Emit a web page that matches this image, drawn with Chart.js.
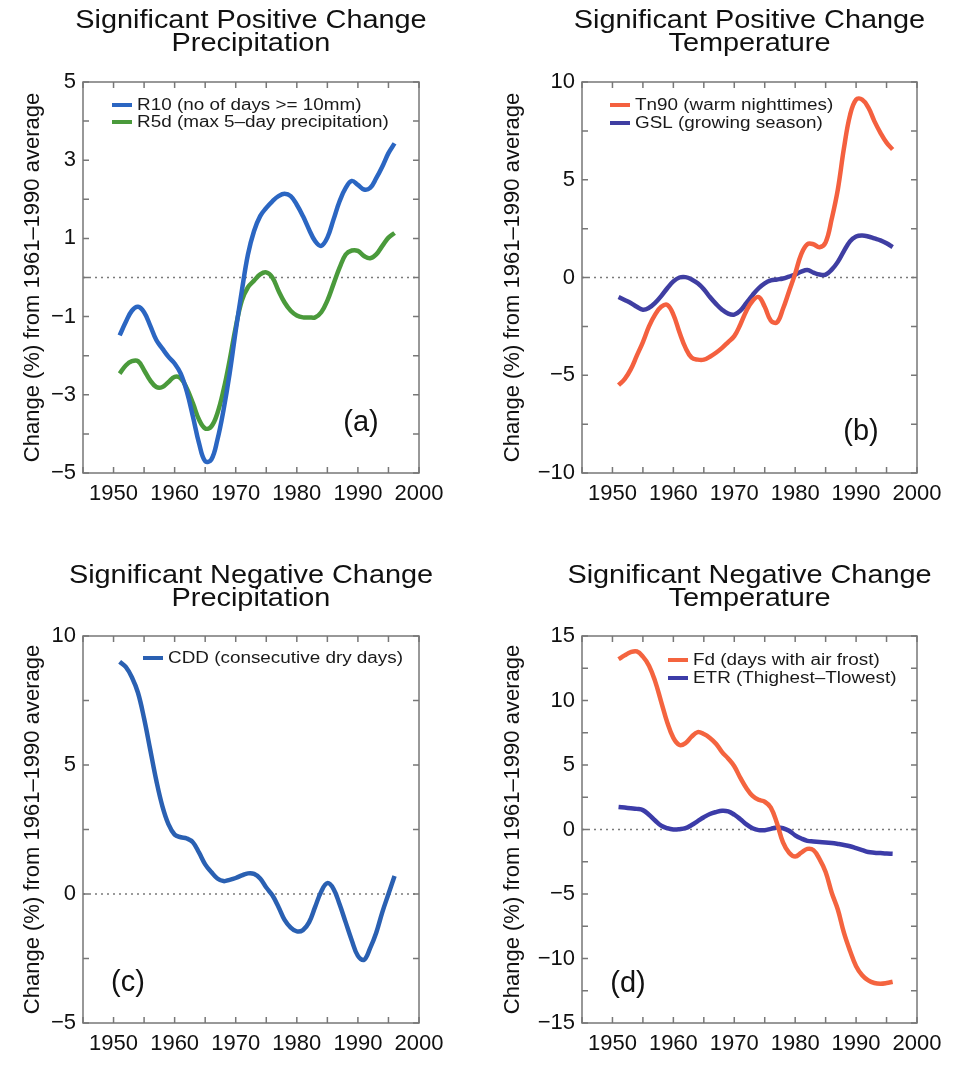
<!DOCTYPE html>
<html>
<head>
<meta charset="utf-8">
<script src="https://cdn.jsdelivr.net/npm/chart.js@4.4.1/dist/chart.umd.min.js"></script>
<style>
body { margin: 0; background: #fff; }
canvas { position: absolute; }
</style>
</head>
<body>
<canvas id="pa" width="479" height="532" style="left:0;top:0"></canvas>
<canvas id="pb" width="479" height="532" style="left:480px;top:0"></canvas>
<canvas id="pc" width="479" height="532" style="left:0;top:533px"></canvas>
<canvas id="pd" width="479" height="532" style="left:480px;top:533px"></canvas>
<script>
// years of the smoothed series
const years = [1951,1952,1953,1954,1955,1956,1957,1958,1959,1960,
  1961,1962,1963,1964,1965,1966,1967,1968,1969,1970,
  1971,1972,1973,1974,1975,1976,1977,1978,1979,1980,
  1981,1982,1983,1984,1985,1986,1987,1988,1989,1990,
  1991,1992,1993,1994,1995,1996];

// (a) precipitation, positive
const r10 = [-1.48,-1.14,-0.85,-0.75,-0.89,-1.23,-1.6,-1.82,-2.03,-2.2,
  -2.46,-2.92,-3.56,-4.24,-4.7,-4.66,-4.15,-3.39,-2.46,-1.36,
  -0.34,0.59,1.19,1.57,1.78,1.95,2.08,2.14,2.08,1.86,
  1.57,1.23,0.93,0.81,1.02,1.48,1.95,2.29,2.47,2.37,
  2.25,2.29,2.54,2.84,3.18,3.43];
const r5d = [-2.46,-2.25,-2.14,-2.14,-2.37,-2.63,-2.8,-2.8,-2.67,-2.54,
  -2.58,-2.84,-3.22,-3.64,-3.86,-3.81,-3.47,-2.88,-2.12,-1.27,
  -0.59,-0.25,-0.08,0.08,0.13,0,-0.34,-0.64,-0.85,-0.97,
  -1.02,-1.02,-1.02,-0.89,-0.59,-0.17,0.25,0.59,0.69,0.68,
  0.55,0.49,0.59,0.81,1.02,1.14];

// (b) temperature, positive
const tn90 = [-5.5,-5.2,-4.7,-4.0,-3.3,-2.5,-1.9,-1.5,-1.4,-1.9,
  -2.8,-3.6,-4.1,-4.2,-4.2,-4.05,-3.85,-3.6,-3.3,-3.0,
  -2.4,-1.7,-1.2,-1.0,-1.5,-2.2,-2.3,-1.6,-0.7,0.2,
  1.2,1.7,1.7,1.55,1.8,3.0,4.5,6.6,8.3,9.1,
  9.1,8.7,8.0,7.4,6.9,6.55];
const gsl = [-1.0,-1.15,-1.3,-1.5,-1.65,-1.55,-1.3,-0.95,-0.55,-0.2,
  0,0.02,-0.1,-0.3,-0.6,-1.0,-1.35,-1.65,-1.85,-1.9,
  -1.7,-1.3,-0.9,-0.55,-0.3,-0.15,-0.1,-0.05,0.05,0.15,
  0.3,0.38,0.25,0.15,0.15,0.4,0.8,1.35,1.85,2.1,
  2.15,2.1,2.0,1.9,1.75,1.55];

// (c) precipitation, negative
const cdd = [9.0,8.8,8.4,7.8,6.8,5.6,4.4,3.4,2.7,2.3,
  2.2,2.15,2.0,1.6,1.15,0.85,0.6,0.5,0.55,0.62,
  0.72,0.8,0.78,0.6,0.25,-0.05,-0.5,-1.0,-1.3,-1.45,
  -1.4,-1.1,-0.5,0.1,0.42,0.2,-0.4,-1.1,-1.8,-2.4,
  -2.55,-2.1,-1.5,-0.7,0.0,0.7];

// (d) temperature, negative
const fd = [13.2,13.5,13.75,13.8,13.4,12.7,11.5,9.9,8.3,7.1,
  6.55,6.7,7.2,7.55,7.4,7.1,6.65,6.0,5.5,4.9,
  4.0,3.2,2.6,2.3,2.15,1.7,0.5,-1.0,-1.8,-2.1,
  -1.8,-1.5,-1.6,-2.3,-3.3,-4.9,-6.2,-8.0,-9.4,-10.6,
  -11.3,-11.7,-11.9,-11.95,-11.9,-11.8];
const etr = [1.75,1.7,1.65,1.6,1.5,1.15,0.7,0.3,0.1,0,
  0.02,0.1,0.35,0.65,0.95,1.2,1.35,1.45,1.4,1.15,
  0.8,0.4,0.1,-0.05,-0.05,0.05,0.15,0.1,-0.1,-0.45,
  -0.7,-0.88,-0.93,-0.97,-1.0,-1.05,-1.12,-1.2,-1.3,-1.45,
  -1.6,-1.75,-1.8,-1.83,-1.86,-1.88];

const FONT = "'Liberation Sans', Arial, Helvetica, sans-serif";
const minus = v => (v < 0 ? '\u2212' + (-v) : String(v));

// text drawn a bit wider than the font, like the scanned figure
function wideText(ctx, s, x, y, size, sx, align) {
  ctx.save();
  ctx.font = size + 'px ' + FONT;
  ctx.translate(x, y);
  ctx.scale(sx, 1);
  ctx.textAlign = align;
  ctx.fillText(s, 0, 0);
  ctx.restore();
}

const decor = {
  id: 'decor',
  beforeDatasetsDraw(chart, args, o) {
    const {ctx, chartArea: a, scales: {y}} = chart;
    const y0 = y.getPixelForValue(0);
    ctx.save();
    ctx.strokeStyle = '#7a7a7a';
    ctx.lineWidth = 1.5;
    ctx.setLineDash([2, 4]);
    ctx.beginPath(); ctx.moveTo(a.left, y0); ctx.lineTo(a.right, y0); ctx.stroke();
    ctx.restore();
  },
  afterDatasetsDraw(chart, args, o) {
    const {ctx, chartArea: a, scales: {x, y}} = chart;
    ctx.save();
    // box + inward ticks on all four sides
    ctx.strokeStyle = '#777';
    ctx.lineWidth = 1.5;
    ctx.strokeRect(a.left, a.top, a.right - a.left, a.bottom - a.top);
    ctx.beginPath();
    x.ticks.forEach(t => {
      const px = x.getPixelForValue(t.value);
      ctx.moveTo(px, a.bottom); ctx.lineTo(px, a.bottom - 6);
      ctx.moveTo(px, a.top); ctx.lineTo(px, a.top + 6);
    });
    y.ticks.forEach(t => {
      const py = y.getPixelForValue(t.value);
      ctx.moveTo(a.left, py); ctx.lineTo(a.left + 6, py);
      ctx.moveTo(a.right, py); ctx.lineTo(a.right - 6, py);
    });
    ctx.stroke();

    // title, two lines
    const cx = (a.left + a.right) / 2;
    ctx.fillStyle = '#111';
    wideText(ctx, o.title[0], cx, o.titleY, 26, 1.11, 'center');
    wideText(ctx, o.title[1], cx, o.titleY + 23, 26, 1.11, 'center');

    // legend inside the box
    chart.data.datasets.forEach((ds, i) => {
      const lx = a.left + o.legX, ly = a.top + o.legY + i * o.legGap;
      ctx.strokeStyle = ds.borderColor;
      ctx.lineWidth = 4;
      ctx.beginPath(); ctx.moveTo(lx, ly); ctx.lineTo(lx + 20, ly); ctx.stroke();
      ctx.fillStyle = '#1a1a1a';
      ctx.textBaseline = 'middle';
      wideText(ctx, ds.label, lx + 25, ly + 1, 16, 1.18, 'left');
    });

    // panel letter
    ctx.fillStyle = '#111';
    ctx.textBaseline = 'middle';
    const tx = o.tagX < 0 ? a.right + o.tagX : a.left + o.tagX;
    wideText(ctx, o.tag, tx, a.bottom - o.tagY, 29, 1, 'center');
    ctx.restore();
  }
};

function panel(id, sets, ymin, ymax, ystep, ylab, box, deco) {
  return new Chart(document.getElementById(id), {
    type: 'line',
    data: {
      datasets: sets.map(s => ({
        label: s.label,
        data: years.map((yr, i) => ({x: yr, y: s.values[i]})),
        borderColor: s.color,
        borderWidth: 4.5,
        pointRadius: 0,
        tension: 0.4,
        fill: false
      }))
    },
    options: {
      responsive: false,
      animation: false,
      events: [],
      layout: {padding: {left: 0, top: box.top, right: 479 - box.right, bottom: 0}},
      scales: {
        x: {
          type: 'linear', min: 1945, max: 2000,
          grid: {display: false, drawTicks: false},
          border: {display: false},
          afterFit: s => { s.height = 532 - box.bottom; },
          ticks: {
            stepSize: 5, autoSkip: false, maxRotation: 0, padding: 8,
            color: '#111', font: {family: FONT, size: 22},
            callback: v => (v % 10 === 0 ? String(v) : '')
          }
        },
        y: {
          min: ymin, max: ymax,
          grid: {display: false, drawTicks: false},
          border: {display: false},
          afterFit: s => { s.width = box.left; },
          title: {
            display: true, text: 'Change (%) from 1961\u20131990 average',
            color: '#111', font: {family: FONT, size: 22}, padding: {top: 20, bottom: 0}
          },
          ticks: {
            stepSize: ystep, autoSkip: false, padding: 7,
            color: '#111', font: {family: FONT, size: 22},
            callback: v => (ylab(v) ? minus(v) : '')
          }
        }
      },
      plugins: {legend: {display: false}, tooltip: {enabled: false}, decor: deco}
    },
    plugins: [decor]
  });
}

panel('pa', [
  {label: 'R10 (no of days >= 10mm)', values: r10, color: '#2b66c2'},
  {label: 'R5d (max 5\u2013day precipitation)', values: r5d, color: '#4a9a3b'}
], -5, 5, 1, v => Math.abs(v) % 2 === 1,
  {left: 83, right: 419, top: 82, bottom: 473},
  {title: ['Significant Positive Change', 'Precipitation'], titleY: 28,
   legX: 29, legY: 23, legGap: 17, tag: '(a)', tagX: -58, tagY: 50});

panel('pb', [
  {label: 'Tn90 (warm nighttimes)', values: tn90, color: '#f4603f'},
  {label: 'GSL (growing season)', values: gsl, color: '#3f3ea2'}
], -10, 10, 2.5, v => v % 5 === 0,
  {left: 102, right: 437, top: 82, bottom: 473},
  {title: ['Significant Positive Change', 'Temperature'], titleY: 28,
   legX: 28, legY: 23, legGap: 18, tag: '(b)', tagX: -56, tagY: 41});

panel('pc', [
  {label: 'CDD (consecutive dry days)', values: cdd, color: '#2a60b2'}
], -5, 10, 2.5, v => v % 5 === 0,
  {left: 83, right: 419, top: 103, bottom: 490},
  {title: ['Significant Negative Change', 'Precipitation'], titleY: 50,
   legX: 60, legY: 22, legGap: 17, tag: '(c)', tagX: 45, tagY: 40});

panel('pd', [
  {label: 'Fd (days with air frost)', values: fd, color: '#f4643f'},
  {label: 'ETR (Thighest\u2013Tlowest)', values: etr, color: '#3c3ca8'}
], -15, 15, 2.5, v => v % 5 === 0,
  {left: 102, right: 437, top: 103, bottom: 490},
  {title: ['Significant Negative Change', 'Temperature'], titleY: 50,
   legX: 86, legY: 24, legGap: 18, tag: '(d)', tagX: 46, tagY: 39});
</script>
</body>
</html>
